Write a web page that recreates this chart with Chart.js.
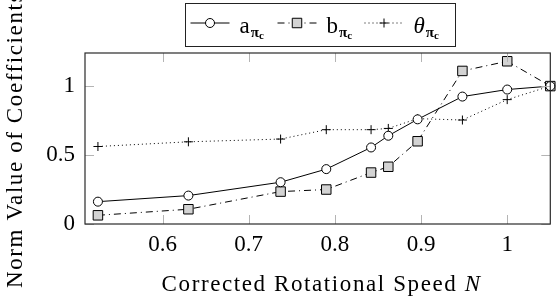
<!DOCTYPE html>
<html>
<head>
<meta charset="utf-8">
<script src="https://cdn.jsdelivr.net/npm/chart.js@4/dist/chart.umd.min.js"></script>
<style>
html, body { margin: 0; padding: 0; background: #fff; }
#wrap { width: 558px; height: 296px; position: relative; }
</style>
</head>
<body>
<div id="wrap"><canvas id="chart"></canvas></div>
<script>
// corrected rotational speed N (x) and normalised coefficients
const speed = [0.525, 0.63, 0.737, 0.79, 0.842, 0.862, 0.896, 0.948, 1.0, 1.05];
const aValues = [0.162, 0.206, 0.303, 0.398, 0.555, 0.64, 0.759, 0.924, 0.975, 1.0];
const bValues = [0.063, 0.107, 0.235, 0.25, 0.373, 0.415, 0.6, 1.11, 1.18, 1.0];
const thetaValues = [0.562, 0.596, 0.616, 0.684, 0.684, 0.693, 0.764, 0.754, 0.902, 1.0];
const xTicks = [0.6, 0.7, 0.8, 0.9, 1];
const yTicks = [0, 0.5, 1];
const seriesNames = [['a', false], ['b', false], ['\u03b8', true]];
const xLabel = ['Corrected Rotational Speed ', 'N'];
const yLabel = 'Norm Value of Coefficients';

const serif = "'Liberation Serif', 'DejaVu Serif', serif";

function pts(ys) {
    return speed.map((x, i) => ({x: x, y: ys[i]}));
}

// box around the plot with inward ticks on all sides
const frame = {
    id: 'frame',
    afterDatasetsDraw(chart) {
        const {ctx, chartArea: a, scales} = chart;
        ctx.save();
        ctx.strokeStyle = '#b4b4b4';
        ctx.lineWidth = 1;
        ctx.beginPath();
        for (const v of xTicks) {
            const px = Math.round(scales.x.getPixelForValue(v)) + 0.5;
            ctx.moveTo(px, a.bottom); ctx.lineTo(px, a.bottom - 9);
            ctx.moveTo(px, a.top); ctx.lineTo(px, a.top + 9);
        }
        for (const v of yTicks) {
            const py = Math.round(scales.y.getPixelForValue(v)) + 0.5;
            ctx.moveTo(a.left, py); ctx.lineTo(a.left + 9, py);
            ctx.moveTo(a.right, py); ctx.lineTo(a.right - 9, py);
        }
        ctx.stroke();
        ctx.strokeStyle = '#2a2a2a';
        ctx.lineWidth = 1.2;
        ctx.strokeRect(a.left, a.top, a.right - a.left, a.bottom - a.top);
        ctx.restore();
    }
};

// boxed legend above the plot, labels with subscript pi_c
const boxLegend = {
    id: 'boxLegend',
    afterDraw(chart) {
        const {ctx, chartArea: a} = chart;
        const w = 270, h = 43;
        const left = Math.round((a.left + a.right) / 2 - w / 2) + 2.5;
        const top = 3.5;
        const cy = 23;
        ctx.save();
        ctx.strokeStyle = '#222';
        ctx.lineWidth = 1;
        ctx.strokeRect(left, top, w, h);
        chart.data.datasets.forEach((ds, i) => {
            const x0 = left + 5 + i * 87;
            ctx.strokeStyle = '#000';
            ctx.lineWidth = ds.borderWidth;
            ctx.setLineDash(ds.borderDash || []);
            ctx.beginPath();
            ctx.moveTo(x0, cy); ctx.lineTo(x0 + 39, cy);
            ctx.stroke();
            ctx.setLineDash([]);
            ctx.fillStyle = ds.pointBackgroundColor;
            ctx.strokeStyle = ds.pointBorderColor;
            ctx.lineWidth = 1;
            Chart.helpers.drawPoint(ctx, {pointStyle: ds.pointStyle, radius: ds.pointRadius, rotation: 0, borderWidth: 1}, x0 + 19.5, cy);
            const [main, italic] = seriesNames[i];
            ctx.fillStyle = '#000';
            ctx.textBaseline = 'alphabetic';
            ctx.textAlign = 'left';
            ctx.font = (italic ? 'italic ' : '') + '23px ' + serif;
            const tx = x0 + 49;
            ctx.fillText(main, tx, 33);
            const mw = ctx.measureText(main).width;
            ctx.font = 'bold 15px ' + serif;
            ctx.fillText('\u03c0', tx + mw + 1, 37);
            const pw = ctx.measureText('\u03c0').width;
            ctx.font = 'bold 11px ' + serif;
            ctx.fillText('c', tx + mw + 1 + pw, 39);
        });
        ctx.restore();
    }
};

// axis titles (x has an italic N), slightly spaced to match the wider original face
const axisTitles = {
    id: 'axisTitles',
    afterDraw(chart) {
        const {ctx, chartArea: a} = chart;
        ctx.save();
        ctx.fillStyle = '#000';
        ctx.textBaseline = 'alphabetic';
        ctx.textAlign = 'left';
        ctx.letterSpacing = '1.6px';
        ctx.font = '23px ' + serif;
        const w1 = ctx.measureText(xLabel[0]).width;
        ctx.font = 'italic 23px ' + serif;
        const w2 = ctx.measureText(xLabel[1]).width;
        const x = (a.left + a.right) / 2 - (w1 + w2) / 2 + 4;
        ctx.font = '23px ' + serif;
        ctx.fillText(xLabel[0], x, 291);
        ctx.font = 'italic 23px ' + serif;
        ctx.fillText(xLabel[1], x + w1, 291);

        // y title runs upward from just above the bottom edge
        ctx.font = '23px ' + serif;
        ctx.textAlign = 'left';
        ctx.textBaseline = 'middle';
        ctx.translate(16, 288);
        ctx.rotate(-Math.PI / 2);
        ctx.fillText(yLabel, 0, 0);
        ctx.restore();
    }
};

new Chart(document.getElementById('chart'), {
    type: 'scatter',
    data: {
        datasets: [
            {
                label: 'a',
                data: pts(aValues),
                showLine: true,
                borderColor: '#000',
                borderWidth: 1,
                pointStyle: 'circle',
                pointRadius: 4.5,
                pointBackgroundColor: '#fff',
                pointBorderColor: '#000',
                pointBorderWidth: 1,
                clip: false
            },
            {
                label: 'b',
                data: pts(bValues),
                showLine: true,
                borderColor: '#000',
                borderWidth: 1,
                borderDash: [7, 4, 1, 4],
                pointStyle: 'rect',
                pointRadius: 6.7,
                pointBackgroundColor: '#d3d3d3',
                pointBorderColor: '#000',
                pointBorderWidth: 1,
                clip: false
            },
            {
                label: 'theta',
                data: pts(thetaValues),
                showLine: true,
                borderColor: '#000',
                borderWidth: 1,
                borderDash: [1, 3],
                pointStyle: 'cross',
                pointRadius: 4.5,
                pointBackgroundColor: '#000',
                pointBorderColor: '#000',
                pointBorderWidth: 1,
                clip: false
            }
        ]
    },
    options: {
        responsive: true,
        maintainAspectRatio: false,
        animation: false,
        layout: { padding: { left: 0, right: 1, top: 53, bottom: 0 } },
        plugins: {
            legend: { display: false },
            tooltip: { enabled: false }
        },
        scales: {
            x: {
                type: 'linear',
                min: 0.51,
                max: 1.05,
                afterBuildTicks: s => { s.ticks = xTicks.map(v => ({value: v})); },
                afterFit: s => { s.height = 72; },
                grid: { display: false, drawTicks: false },
                border: { display: false },
                ticks: {
                    color: '#000',
                    padding: 7,
                    font: { family: serif, size: 23 },
                    callback: v => String(v)
                }
            },
            y: {
                type: 'linear',
                min: 0,
                max: 1.24,
                afterBuildTicks: s => { s.ticks = yTicks.map(v => ({value: v})); },
                afterFit: s => { s.width = 85; },
                grid: { display: false, drawTicks: false },
                border: { display: false },
                ticks: {
                    color: '#000',
                    padding: 10,
                    font: { family: serif, size: 23 },
                    callback: v => String(v)
                }
            }
        }
    },
    plugins: [frame, boxLegend, axisTitles]
});
</script>
</body>
</html>
